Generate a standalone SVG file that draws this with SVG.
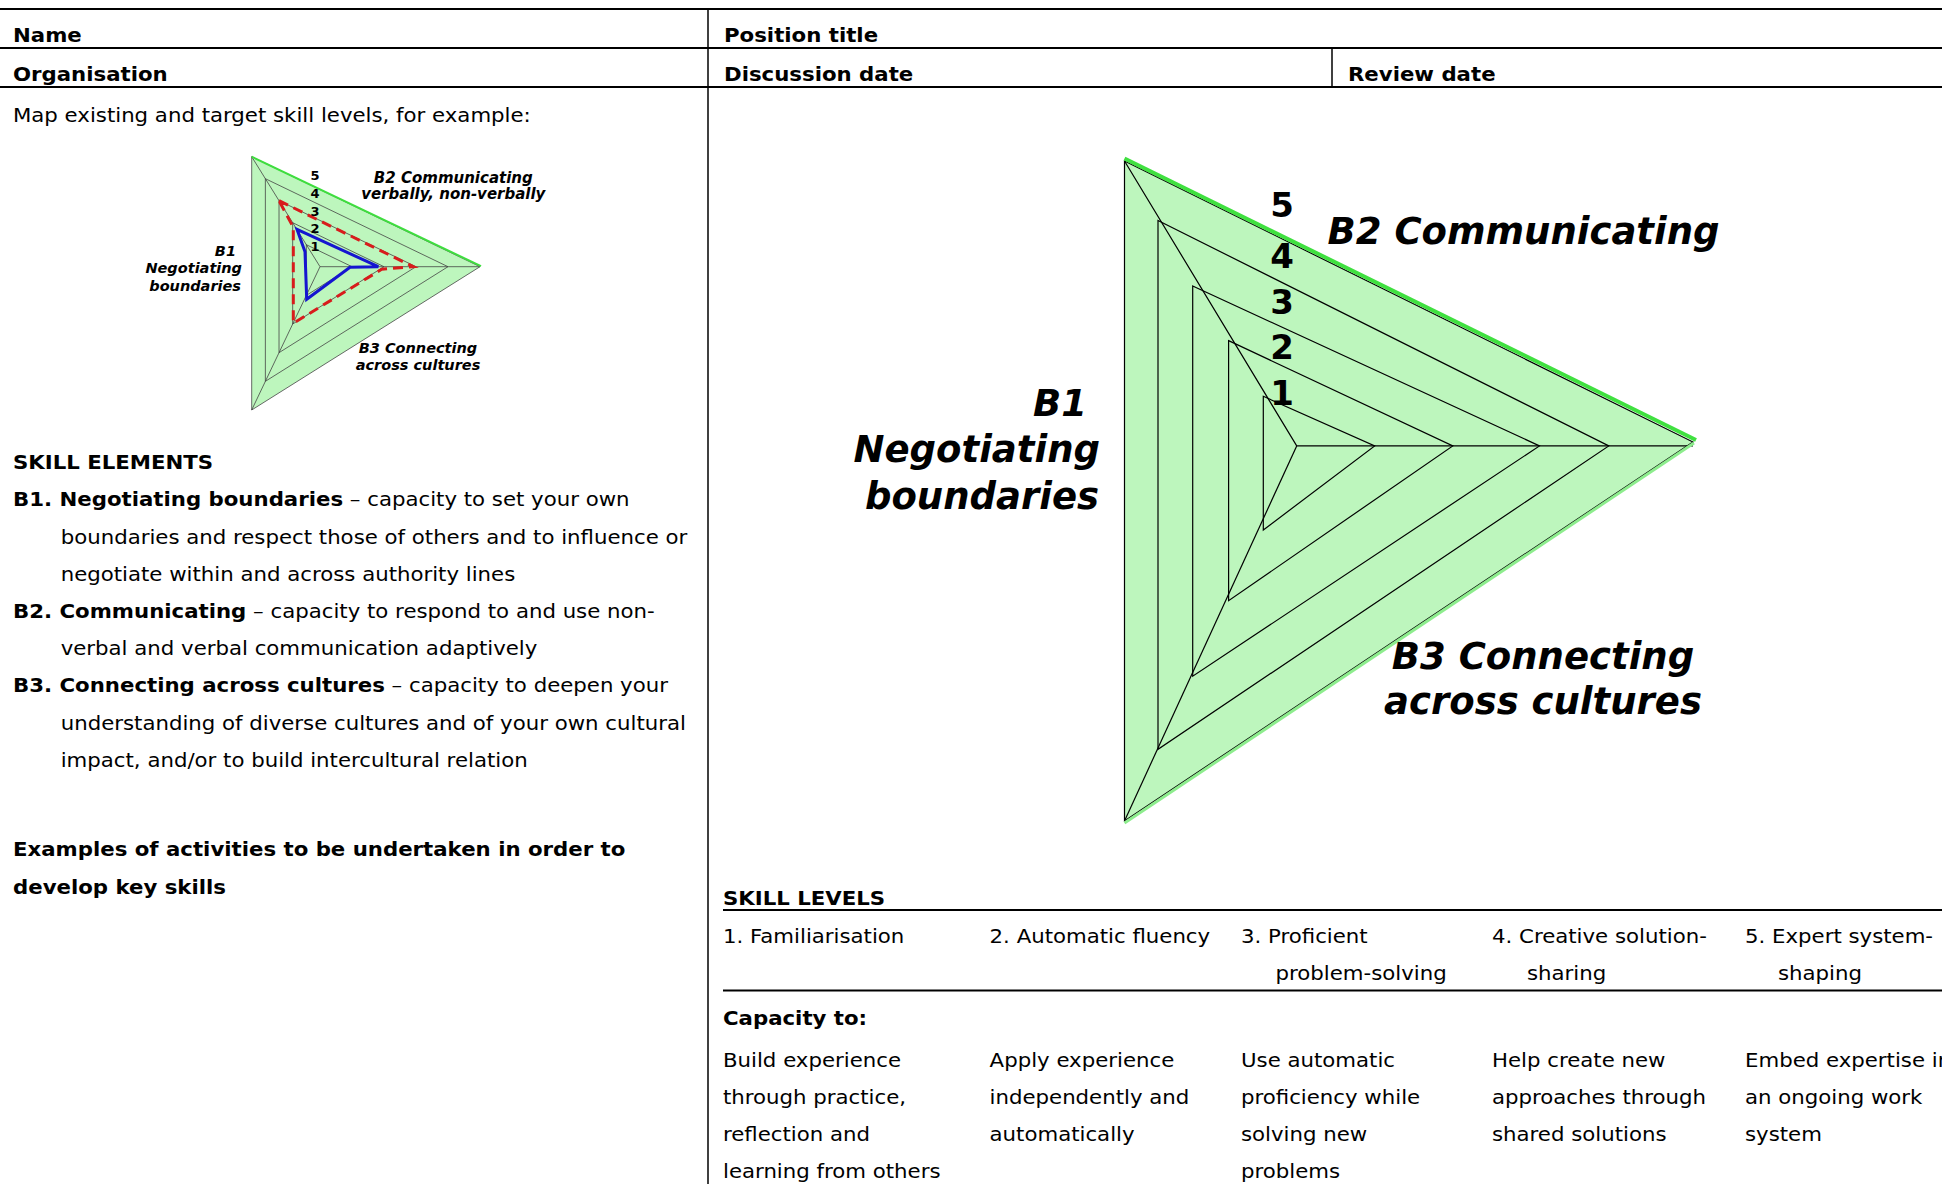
<svg xmlns="http://www.w3.org/2000/svg" width="1942" height="1184" viewBox="0 0 1942 1184">
<style>
.t{font-family:"DejaVu Sans",Verdana,sans-serif;font-size:19px;fill:#000}
.b{font-weight:bold}
.ch{font-family:"DejaVu Sans",Verdana,sans-serif;font-weight:bold;font-style:italic;fill:#000}
.num{font-family:"DejaVu Sans",Verdana,sans-serif;font-weight:bold;fill:#000;text-anchor:middle}
.rule{stroke:#000;stroke-width:2}
.vrule{stroke:#000;stroke-width:1.5}
.grid{fill:none;stroke:#000;stroke-width:1.2}
.sgrid{fill:none;stroke:#444;stroke-width:0.8}
.fill{fill:#bdf6bd}
</style>
<rect width="1942" height="1184" fill="#fff"/>

<g id="connectors">
  <line class="rule" x1="0" y1="9" x2="1942" y2="9"/>
  <line class="rule" x1="0" y1="48" x2="1942" y2="48"/>
  <line class="rule" x1="0" y1="87" x2="1942" y2="87"/>
  <line class="vrule" x1="708" y1="9" x2="708" y2="1184"/>
  <line class="vrule" x1="1332" y1="48" x2="1332" y2="87"/>
  <line class="rule" x1="723" y1="910" x2="1942" y2="910"/>
  <line class="rule" x1="723" y1="990.5" x2="1942" y2="990.5"/>
</g>

<g id="header" class="t" transform="scale(1.12 1)">
  <text x="11.61" y="42" class="b">Name</text>
  <text x="646.43" y="42" class="b">Position title</text>
  <text x="11.61" y="81.5" class="b">Organisation</text>
  <text x="646.43" y="81.5" class="b">Discussion date</text>
  <text x="1203.57" y="81.5" class="b">Review date</text>
</g>

<g id="left-column" class="t" transform="scale(1.12 1)">
  <text x="11.61" y="122">Map existing and target skill levels, for example:</text>
  <text x="11.61" y="469.5" class="b">SKILL ELEMENTS</text>
  <text x="11.61" y="506.5"><tspan class="b">B1. Negotiating boundaries</tspan> – capacity to set your own</text>
  <text x="54.2" y="543.7">boundaries and respect those of others and to influence or</text>
  <text x="54.2" y="580.9">negotiate within and across authority lines</text>
  <text x="11.61" y="618.1"><tspan class="b">B2. Communicating</tspan> – capacity to respond to and use non-</text>
  <text x="54.2" y="655.3">verbal and verbal communication adaptively</text>
  <text x="11.61" y="692.5"><tspan class="b">B3. Connecting across cultures</tspan> – capacity to deepen your</text>
  <text x="54.2" y="729.7">understanding of diverse cultures and of your own cultural</text>
  <text x="54.2" y="766.9">impact, and/or to build intercultural relation</text>
  <text x="11.61" y="856.5" class="b">Examples of activities to be undertaken in order to</text>
  <text x="11.61" y="893.7" class="b">develop key skills</text>
</g>

<g id="example-chart">
  <polygon class="fill" points="251.7,156.7 480,266.7 251.7,410"/>
  <polygon class="sgrid" points="251.7,156.7 480,266.7 251.7,410"/>
  <polygon class="sgrid" points="265.36,178.7 448,266.7 265.36,381.34"/>
  <polygon class="sgrid" points="279.02,200.7 416,266.7 279.02,352.68"/>
  <polygon class="sgrid" points="292.68,222.7 384,266.7 292.68,324.02"/>
  <polygon class="sgrid" points="306.34,244.7 352,266.7 306.34,295.36"/>
  <polyline class="sgrid" points="251.7,156.7 320,266.7 480,266.7"/>
  <line class="sgrid" x1="320" y1="266.7" x2="251.7" y2="410"/>
  <line x1="251.7" y1="156.7" x2="481" y2="266.2" stroke="#3ede3e" stroke-width="2"/>
  <polygon points="279,200.7 413.3,266.7 381.7,269.3 293.3,323.3 293.3,227.3" fill="none" stroke="#d81c1c" stroke-width="3" stroke-dasharray="10 6"/>
  <polygon points="297,229.3 378.3,266.7 350,267.3 306.7,299.3 305,251.7" fill="none" stroke="#1515d0" stroke-width="3"/>
  <text class="num" x="315" y="180" font-size="13">5</text>
  <text class="num" x="315" y="198" font-size="13">4</text>
  <text class="num" x="315" y="216" font-size="13">3</text>
  <text class="num" x="315" y="233" font-size="13">2</text>
  <text class="num" x="315" y="251" font-size="13">1</text>
  <text class="ch" x="453.3" y="183" font-size="15" text-anchor="middle">B2 Communicating</text>
  <text class="ch" x="453.3" y="199" font-size="15" text-anchor="middle">verbally, non-verbally</text>
  <text class="ch" x="236" y="256" font-size="14.5" text-anchor="end">B1</text>
  <text class="ch" x="242" y="273" font-size="14.5" text-anchor="end">Negotiating</text>
  <text class="ch" x="241" y="290.5" font-size="14.5" text-anchor="end">boundaries</text>
  <text class="ch" x="418" y="353.3" font-size="14.5" text-anchor="middle">B3 Connecting</text>
  <text class="ch" x="418" y="370" font-size="14.5" text-anchor="middle">across cultures</text>
</g>

<g id="main-chart">
  <polygon class="fill" points="1124.5,161 1693,442 1124.5,821"/>
  <polygon class="grid" points="1124.5,161 1693,442 1124.5,821"/>
  <polygon class="grid" points="1158,220.5 1608.8,445.9 1158,749.3"/>
  <polygon class="grid" points="1192.7,286 1539.5,445.9 1192.7,676.2"/>
  <polygon class="grid" points="1228.6,340.6 1452.8,445.9 1228.6,600.7"/>
  <polygon class="grid" points="1263.3,396.3 1374.7,445.9 1263.3,530"/>
  <polyline class="grid" points="1124.5,161 1296.7,445.9 1693,445.9"/>
  <line class="grid" x1="1296.7" y1="445.9" x2="1124.5" y2="821"/>
  <line x1="1124.5" y1="158.5" x2="1696" y2="440" stroke="#40e040" stroke-width="4"/>
  <line x1="1124.5" y1="823" x2="1694" y2="443" stroke="#8ded8d" stroke-width="3"/>
  <text class="num" x="1282" y="217" font-size="34">5</text>
  <text class="num" x="1282" y="267.5" font-size="34">4</text>
  <text class="num" x="1282" y="313.5" font-size="34">3</text>
  <text class="num" x="1282" y="359" font-size="34">2</text>
  <text class="num" x="1282" y="405" font-size="34">1</text>
  <text class="ch" x="1327.6" y="244" font-size="37">B2 Communicating</text>
  <text class="ch" x="1087" y="416" font-size="37" text-anchor="end">B1</text>
  <text class="ch" x="1100" y="462" font-size="37" text-anchor="end">Negotiating</text>
  <text class="ch" x="1099" y="509" font-size="37" text-anchor="end">boundaries</text>
  <text class="ch" x="1543" y="669" font-size="37" text-anchor="middle">B3 Connecting</text>
  <text class="ch" x="1543" y="713.5" font-size="37" text-anchor="middle">across cultures</text>
</g>

<g id="skill-levels" class="t" transform="scale(1.12 1)">
  <text x="645.54" y="905" class="b">SKILL LEVELS</text>
  <text x="645.54" y="943">1. Familiarisation</text>
  <text x="883.57" y="943">2. Automatic fluency</text>
  <text x="1108.04" y="943">3. Proficient</text>
  <text x="1332.14" y="943">4. Creative solution-</text>
  <text x="1558.04" y="943">5. Expert system-</text>
  <text x="1138.93" y="980">problem-solving</text>
  <text x="1363.39" y="980">sharing</text>
  <text x="1587.5" y="980">shaping</text>
  <text x="645.54" y="1025" class="b">Capacity to:</text>
  <text x="645.54" y="1067">Build experience</text>
  <text x="645.54" y="1104">through practice,</text>
  <text x="645.54" y="1141">reflection and</text>
  <text x="645.54" y="1178">learning from others</text>
  <text x="883.57" y="1067">Apply experience</text>
  <text x="883.57" y="1104">independently and</text>
  <text x="883.57" y="1141">automatically</text>
  <text x="1108.04" y="1067">Use automatic</text>
  <text x="1108.04" y="1104">proficiency while</text>
  <text x="1108.04" y="1141">solving new</text>
  <text x="1108.04" y="1178">problems</text>
  <text x="1332.14" y="1067">Help create new</text>
  <text x="1332.14" y="1104">approaches through</text>
  <text x="1332.14" y="1141">shared solutions</text>
  <text x="1558.04" y="1067">Embed expertise in</text>
  <text x="1558.04" y="1104">an ongoing work</text>
  <text x="1558.04" y="1141">system</text>
</g>
</svg>
